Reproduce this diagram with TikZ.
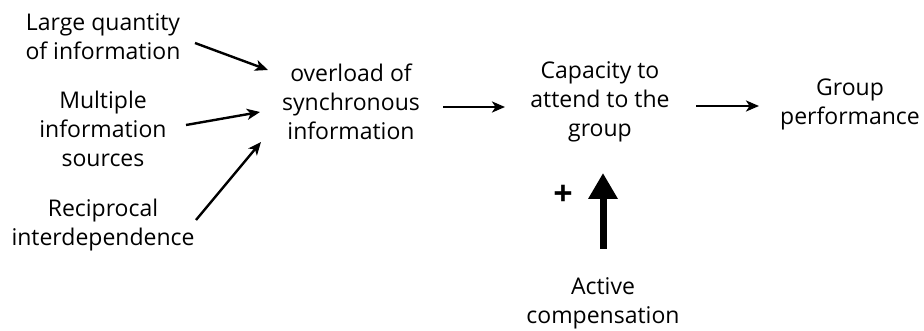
\documentclass[tikz,border=0pt]{standalone}
\usepackage{fontspec}
\setmainfont{Open Sans}
\usetikzlibrary{arrows.meta}
\begin{document}
\begin{tikzpicture}[x=1pt,y=-1pt,
  lbl/.style={align=center,inner sep=0pt,font=\fontsize{23}{29}\selectfont},
  arr/.style={line width=2.4pt,-{Stealth[length=13pt,width=11pt,inset=3.5pt]}},
  bigarr/.style={line width=7pt,-{Triangle[length=26pt,width=28pt]}}]
  \useasboundingbox (0,0) rectangle (924,331);
  % causes
  \node[lbl] (lq) at (103,37) {Large quantity\\of information};
  \node[lbl] (ms) at (103,129) {Multiple\\information\\sources};
  \node[lbl] (ri) at (103,225) {Reciprocal\\interdependence};
  % chain
  \node[lbl] (ov) at (351,102) {overload of\\synchronous\\information};
  \node[lbl] (ca) at (600,102) {Capacity to\\attend to the\\group};
  \node[lbl] (gp) at (850,104) {Group\\performance};
  \node[lbl] (ac) at (603,303) {Active\\compensation};
  \node[inner sep=0pt,font=\fontsize{34}{34}\selectfont\bfseries] (pl) at (563,195) {+};
  % connectors
  \draw[arr] ([shift={(92,6)}]lq.center) -- ([shift={(-83,-32)}]ov.center);
  \draw[arr] ([shift={(83,-4)}]ms.center) -- ([shift={(-91,10)}]ov.center);
  \draw[arr] ([shift={(93,-5)}]ri.center) -- ([shift={(-90,40)}]ov.center);
  \draw[arr] ([shift={(92,5)}]ov.center) -- ([shift={(-95,5)}]ca.center);
  \draw[arr] ([shift={(96,4)}]ca.center) -- ([shift={(-91,2)}]gp.center);
  \draw[bigarr] ([shift={(0,-54)}]ac.center) -- ([shift={(3,71)}]ca.center);
\end{tikzpicture}
\end{document}
